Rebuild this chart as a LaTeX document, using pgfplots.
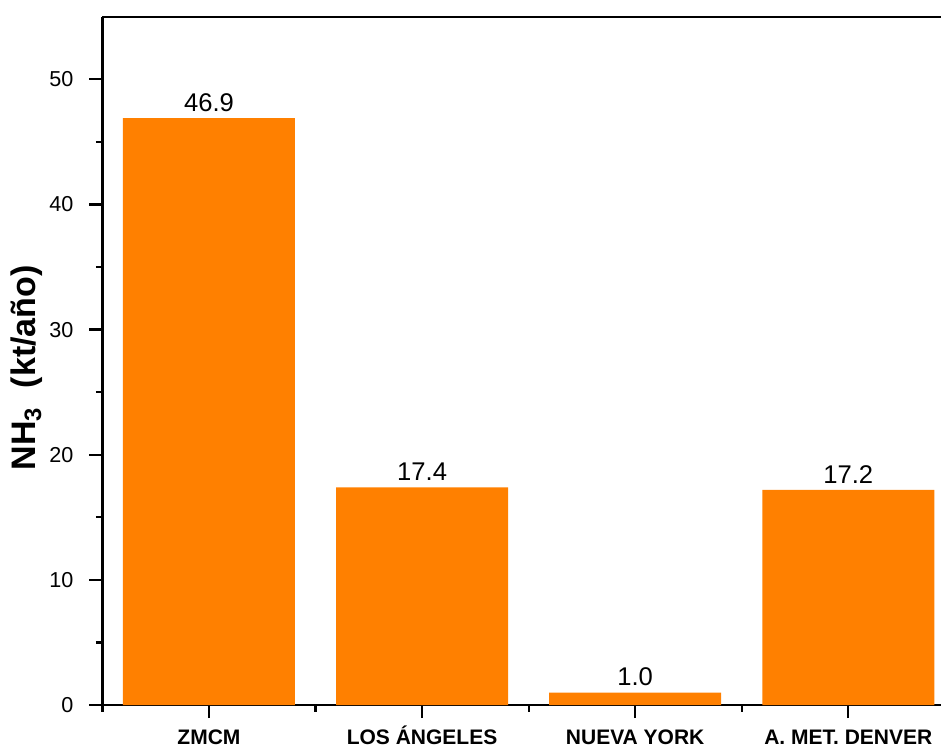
\documentclass[border=0pt]{standalone}
\usepackage{pgfplots}
\pgfplotsset{compat=1.18}
\usepackage{fontspec}
\setmainfont{Liberation Sans}
\definecolor{barorange}{RGB}{255,128,0}
\begin{document}
\begin{tikzpicture}
\path[use as bounding box] (-51.2pt,-21.5pt) rectangle (419.25pt,352.5pt);
\begin{axis}[
  at={(0pt,0pt)}, anchor=south west,
  scale only axis,
  width=419.25pt, height=344.15pt,
  xmin=0.5, xmax=4.435,
  ymin=0, ymax=55,
  axis y line*=left,
  xtick pos=bottom,
  ytick pos=left,
  tick align=outside,
  xtick={1,2,3,4},
  xticklabels={ZMCM,LOS ÁNGELES,NUEVA YORK,A. MET. DENVER},
  minor xtick={0.5,1.5,2.5,3.5},
  ytick={0,10,20,30,40,50},
  minor ytick={5,15,25,35,45},
  major tick length=6.5pt,
  minor tick length=3.3pt,
  tick style={black, line width=1.1pt},
  axis line style={black, line width=1.1pt},
  /pgf/number format/assume math mode=true,
  yticklabel style={font=\fontsize{10.8}{13}\selectfont, xshift=-4.5pt},
  xticklabel style={font=\bfseries\fontsize{10.5}{12}\selectfont, yshift=-2.3pt, text height=7.6pt, text depth=0pt},
  ylabel={\textbf{NH\textsubscript{3} \ (kt/año)}},
  ylabel style={font=\fontsize{17}{20}\selectfont, at={(axis description cs:-0.0897,0.49)}, anchor=center},
  nodes near coords,
  every node near coord/.append style={font=\fontsize{12.8}{15}\selectfont, inner sep=0pt, yshift=3pt, anchor=south, /pgf/number format/.cd, fixed, fixed zerofill, precision=1},
]
\addplot[ybar, bar width=86pt, fill=barorange, draw=none] coordinates {(1,46.9) (2,17.4) (3,1.0) (4,17.2)};
\end{axis}
\end{tikzpicture}
\end{document}
